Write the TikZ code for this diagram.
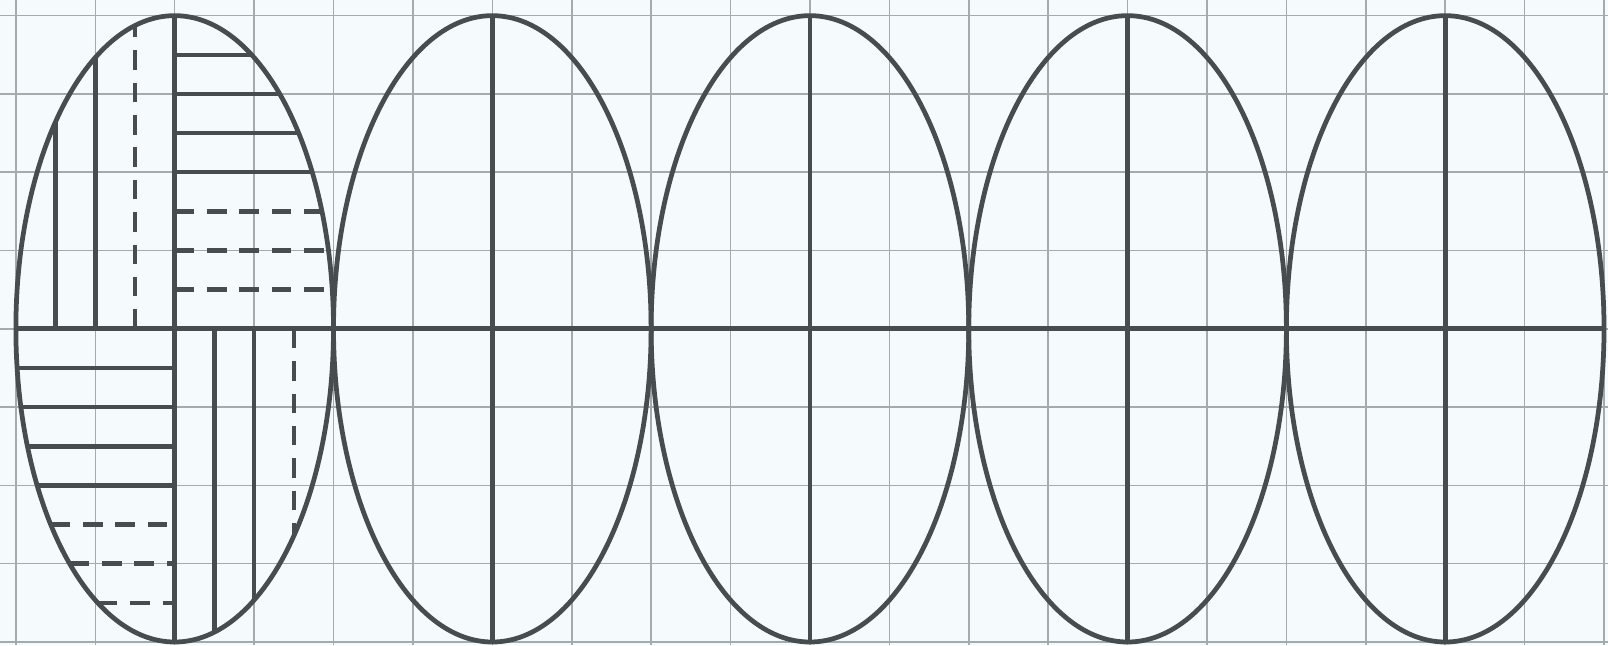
\documentclass[tikz,border=0pt]{standalone}
\usepackage{tikz}
\usepackage{xcolor}
\definecolor{paper}{HTML}{F5FBFD}
\definecolor{gridgray}{HTML}{A4ABAD}
\definecolor{ink}{HTML}{474C4E}
\tikzset{gridline/.style = {draw = gridgray, line width = 0.55pt}}
\tikzset{outline/.style = {draw = ink, line width = 1.7pt}}
\tikzset{hatch/.style = {draw = ink, line width = 1.6pt}}
\tikzset{hatchdash/.style = {hatch, dash pattern = on 7pt off 4.6pt}}

\begin{document}
\begin{tikzpicture}[y=0.986cm]
    \coordinate (sw) at (-2.2,-4.04);
    \coordinate (ne) at (18.05,4.2);
    \fill[paper] (sw) rectangle (ne);
    \useasboundingbox (sw) rectangle (ne);
    % squared paper
    \foreach \x in {-2,...,18} {
        \draw[gridline] (\x,-4.04) -- (\x,4.2);
    }
    \foreach \y in {-4,...,4} {
        \draw[gridline] (-2.2,\y) -- (18.05,\y);
    }
    % hatching of the first ellipse
    \foreach \x/\s in {-1.5/hatch, -1/hatch, -0.5/hatchdash} {
        \draw[\s] (\x,0) -- (\x,{4*sqrt(1-(\x/2)^2)}); % upper left
    }
    \foreach \y/\s in {3.5/hatch, 3/hatch, 2.5/hatch, 2/hatch, 1.5/hatchdash, 1/hatchdash, 0.5/hatchdash} {
        \draw[\s] (0,\y) -- ({2*sqrt(1-(\y/4)^2)},\y); % upper right
    }
    \foreach \y/\s in {-0.5/hatch, -1/hatch, -1.5/hatch, -2/hatch, -2.5/hatchdash, -3/hatchdash, -3.5/hatchdash} {
        \draw[\s] ({-2*sqrt(1-(\y/4)^2)},\y) -- (0,\y); % lower left
    }
    \foreach \x/\s in {0.5/hatch, 1/hatch, 1.5/hatchdash} {
        \draw[\s] (\x,0) -- (\x,{-4*sqrt(1-(\x/2)^2)}); % lower right
    }
    % the five ellipses
    \foreach \c in {0,4,8,12,16} {
        \draw[outline] (\c,0) ellipse (2 and 4);
        \draw[outline] (\c,-4) -- (\c,4);
    }
    \coordinate (left) at (-2,0);
    \coordinate (right) at (18,0);
    \draw[outline] (left) -- (right);
\end{tikzpicture}
\end{document}
